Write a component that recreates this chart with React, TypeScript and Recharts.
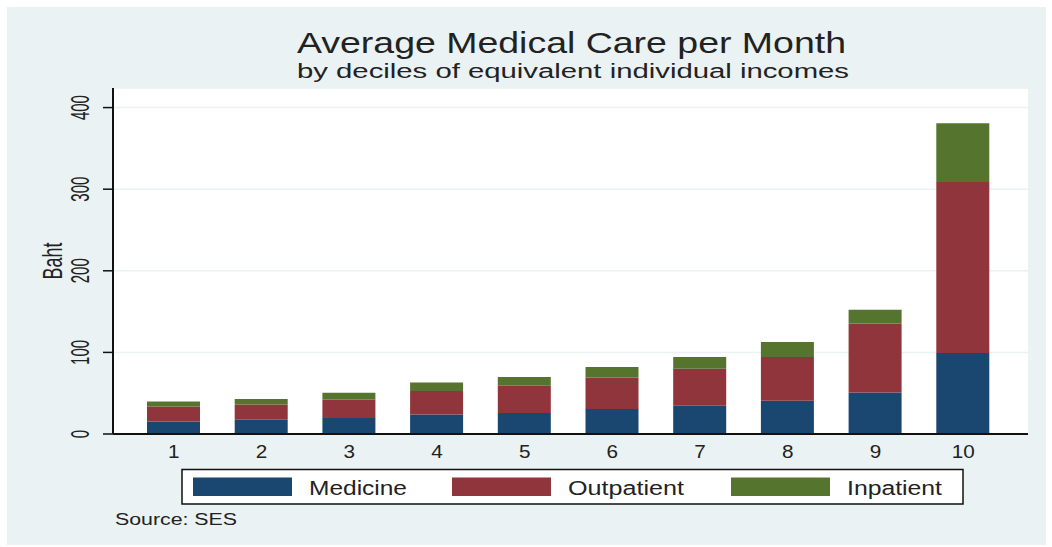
import React from "react";
import { BarChart, Bar, XAxis, YAxis, CartesianGrid } from "recharts";

// values (Baht per month, by income decile)
const deciles = ["1", "2", "3", "4", "5", "6", "7", "8", "9", "10"];
const medicine = [15.4, 17.5, 19.6, 24, 25.7, 30.6, 34.7, 40.8, 51, 99.2];
const outpatient = [18.4, 18.8, 22.8, 28.6, 33.4, 38.7, 45.3, 53.5, 84.4, 209.7];
const inpatient = [6.1, 6.5, 8.2, 10.6, 10.7, 12.7, 14.3, 18.3, 16.8, 71.9];
const yTicks = [0, 100, 200, 300, 400];

const series = [
  { key: "medicine", name: "Medicine", color: "#1A476F" },
  { key: "outpatient", name: "Outpatient", color: "#90353B" },
  { key: "inpatient", name: "Inpatient", color: "#55752F" },
];

const data = deciles.map((d, i) => ({
  decile: d,
  medicine: medicine[i],
  outpatient: outpatient[i],
  inpatient: inpatient[i],
}));

const FONT = "'Liberation Sans', Arial, Helvetica, sans-serif";
const INK = "#222";
const BG = "#EAF2F3";

// legend layout (page coords)
const legendSwatchX = [193, 452, 731];
const legendTextX = [309, 568, 847];
const legendTextW = [98, 116, 95];

function YTick(props: any) {
  const { x, y, payload } = props;
  return (
    <g transform={`translate(${x},${y}) rotate(-90) scale(1,1.7)`}>
      <text textAnchor="middle" fontSize={15} fontFamily={FONT} fill={INK}>
        {payload.value}
      </text>
    </g>
  );
}

function XTick(props: any) {
  const { x, y, payload } = props;
  return (
    <g transform={`translate(${x},${y + 24}) scale(1.15,1)`}>
      <text textAnchor="middle" fontSize={18} fontFamily={FONT} fill={INK}>
        {payload.value}
      </text>
    </g>
  );
}

function YLabel(props: any) {
  const vb = props.viewBox;
  const cx = vb.x - 1;
  const cy = vb.y + vb.height / 2;
  return (
    <g transform={`translate(${cx},${cy}) rotate(-90) scale(1,1.5)`}>
      <text textAnchor="middle" fontSize={18} fontFamily={FONT} fill={INK}>
        Baht
      </text>
    </g>
  );
}

export default function App() {
  return (
    <div style={{ position: "absolute", left: 0, top: 0, width: 1052, height: 547, background: "#fff" }}>
      <div style={{ position: "absolute", left: 7, top: 7, width: 1039, height: 538, background: BG }}>
        <BarChart
          width={1039}
          height={538}
          data={data}
          margin={{ top: 81, right: 18, bottom: 81, left: 56 }}
          barSize={53}
        >
          <CartesianGrid horizontal vertical={false} fill="#fff" stroke={BG} strokeWidth={1.5} />
          <XAxis
            dataKey="decile"
            height={30}
            padding={{ left: 17, right: 21 }}
            tickLine={false}
            tickSize={0}
            tickMargin={0}
            axisLine={{ stroke: "#111", strokeWidth: 2 }}
            tick={<XTick />}
            interval={0}
          />
          <YAxis
            width={50}
            domain={[0, 424]}
            ticks={yTicks}
            allowDataOverflow
            tickSize={10}
            tickMargin={14}
            tickLine={{ stroke: "#111", strokeWidth: 1.5 }}
            axisLine={{ stroke: "#111", strokeWidth: 2 }}
            tick={<YTick />}
            label={{ content: <YLabel /> }}
          />
          {series.map((s) => (
            <Bar key={s.key} dataKey={s.key} name={s.name} stackId="a" fill={s.color} isAnimationActive={false} />
          ))}
        </BarChart>
      </div>
      <svg
        width={1052}
        height={547}
        style={{ position: "absolute", left: 0, top: 0, pointerEvents: "none" }}
      >
        <text x={297} y={53} fontSize={29} fontFamily={FONT} fill={INK} textLength={549} lengthAdjust="spacingAndGlyphs">
          Average Medical Care per Month
        </text>
        <text x={297} y={78} fontSize={20} fontFamily={FONT} fill={INK} textLength={552} lengthAdjust="spacingAndGlyphs">
          by deciles of equivalent individual incomes
        </text>
        <rect x={182} y={469.5} width={781} height={34.5} fill="#fff" stroke="#111" strokeWidth={1.5} />
        {series.map((s, i) => (
          <g key={s.key}>
            <rect x={legendSwatchX[i]} y={477.5} width={99} height={18.5} fill={s.color} />
            <text
              x={legendTextX[i]}
              y={495}
              fontSize={20}
              fontFamily={FONT}
              fill={INK}
              textLength={legendTextW[i]}
              lengthAdjust="spacingAndGlyphs"
            >
              {s.name}
            </text>
          </g>
        ))}
        <text x={115} y={525} fontSize={16} fontFamily={FONT} fill={INK} textLength={122} lengthAdjust="spacingAndGlyphs">
          Source: SES
        </text>
      </svg>
    </div>
  );
}
